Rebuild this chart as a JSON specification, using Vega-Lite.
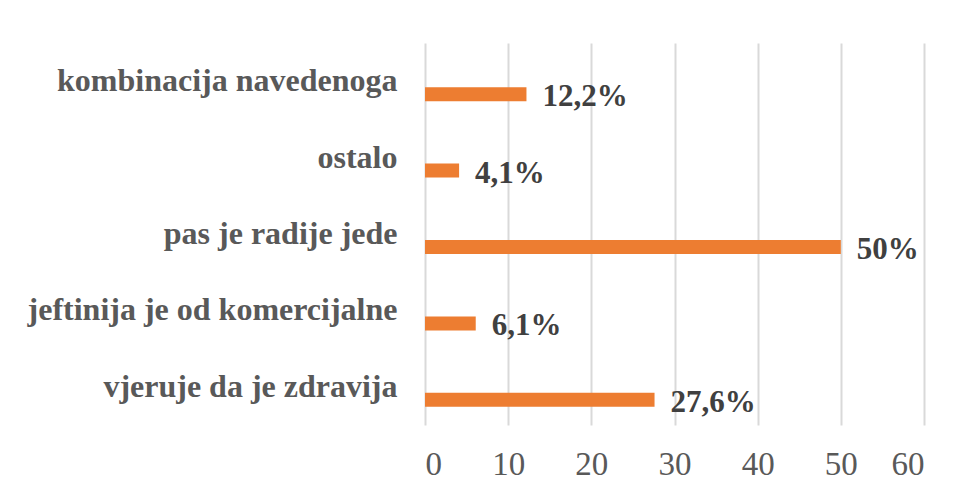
{
  "$schema": "https://vega.github.io/schema/vega-lite/v6.json",
  "autosize": "none",
  "width": 499,
  "height": 382,
  "padding": {"left": 425, "top": 43, "right": 31, "bottom": 59},
  "background": "white",
  "config": {"view": {"stroke": null}, "font": "Liberation Serif"},
  "data": {
    "values": [
      {"kategorija": "kombinacija navedenoga", "postotak": 12.2, "oznaka": "12,2%"},
      {"kategorija": "ostalo", "postotak": 4.1, "oznaka": "4,1%"},
      {"kategorija": "pas je radije jede", "postotak": 50, "oznaka": "50%"},
      {"kategorija": "jeftinija je od komercijalne", "postotak": 6.1, "oznaka": "6,1%"},
      {"kategorija": "vjeruje da je zdravija", "postotak": 27.6, "oznaka": "27,6%"}
    ]
  },
  "encoding": {
    "y": {
      "field": "kategorija",
      "type": "nominal",
      "sort": null,
      "scale": {"paddingInner": 0, "paddingOuter": 0},
      "axis": {
        "title": null,
        "ticks": false,
        "domain": false,
        "labelFont": "Liberation Serif",
        "labelFontWeight": "bold",
        "labelFontSize": 32,
        "labelColor": "#595959",
        "labelPadding": 28,
        "labelLimit": 0
      }
    },
    "x": {
      "field": "postotak",
      "type": "quantitative",
      "scale": {"domain": [0, 60], "nice": false},
      "axis": {
        "title": null,
        "values": [0, 10, 20, 30, 40, 50, 60],
        "grid": true,
        "gridColor": "#d9d9d9",
        "gridWidth": 2,
        "domain": false,
        "ticks": false,
        "labelFont": "Liberation Serif",
        "labelFontSize": 33,
        "labelColor": "#595959",
        "labelPadding": 23
      }
    }
  },
  "layer": [
    {
      "mark": {"type": "bar", "color": "#ED7D31", "height": 14, "yOffset": 13}
    },
    {
      "mark": {
        "type": "text",
        "align": "left",
        "baseline": "middle",
        "dx": 16,
        "yOffset": 16,
        "font": "Liberation Serif",
        "fontWeight": "bold",
        "fontSize": 31,
        "color": "#404040"
      },
      "encoding": {"text": {"field": "oznaka"}}
    }
  ]
}
